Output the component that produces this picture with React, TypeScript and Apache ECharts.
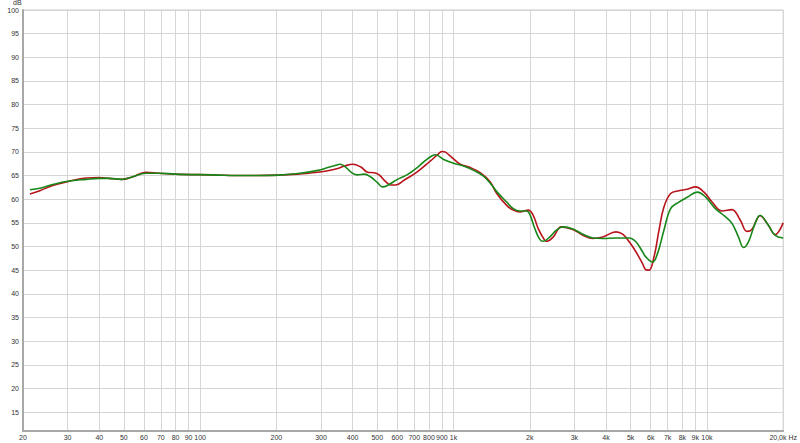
import React, { useEffect, useRef } from "react";
import * as echarts from "echarts";

// Frequency response, red curve
const redFreqs = [21.3, 23.3, 26.2, 30, 35.5, 40, 43.8, 49.2, 53.9, 61, 68.8, 79.9, 110.9, 150.4, 203.2, 243.3, 291.5, 319.1, 349.2, 371, 400, 431, 458, 486.5, 508.7, 540.3, 565.3, 591.4, 637.8, 719.2, 811.1, 861.5, 901, 929, 986.5, 1063, 1164, 1274, 1394, 1481, 1621, 1722, 1828, 1972, 2063, 2159, 2291, 2326, 2472, 2664, 2960, 3240, 3546, 3882, 4377, 4651, 4936, 5244, 5570, 5741, 5914, 6189, 6471, 6771, 7193, 7754, 8364, 9013, 9716, 10481, 11470, 12559, 13535, 14378, 15044, 16214, 17477, 18563, 20000];
const redDb = [61.1, 61.8, 62.9, 63.7, 64.5, 64.6, 64.4, 64.2, 64.7, 65.7, 65.5, 65.3, 65.15, 65.0, 65.1, 65.3, 65.7, 66.0, 66.5, 67.0, 67.4, 66.8, 65.7, 65.6, 65.15, 63.7, 63.0, 63.0, 64.0, 65.8, 68.1, 69.3, 70.1, 69.95, 68.8, 67.4, 66.7, 65.6, 63.7, 61.2, 58.7, 57.7, 57.3, 57.7, 56.6, 53.8, 51.3, 51.1, 52.0, 54.15, 53.6, 52.4, 51.7, 52.0, 53.1, 52.6, 51.0, 48.9, 46.4, 45.1, 45.0, 47.9, 53.45, 58.4, 61.2, 61.8, 62.1, 62.6, 61.55, 59.4, 57.5, 57.8, 55.6, 53.2, 53.6, 56.5, 54.5, 52.5, 55.0];

// Frequency response, green curve
const greenFreqs = [21.3, 23.3, 26.2, 30, 35.5, 40, 43.8, 49.2, 53.9, 61, 68.8, 79.9, 110.9, 150.4, 203.2, 243.3, 291.5, 319.1, 349.2, 356, 400, 418, 444.5, 471.7, 501, 524.3, 548.5, 600.6, 657.3, 719.2, 787, 823.5, 848, 915.3, 1002, 1096, 1200, 1313, 1416, 1481, 1621, 1722, 1828, 1942, 2001, 2093, 2190, 2258, 2397, 2546, 2705, 2960, 3240, 3546, 3882, 4377, 4936, 5244, 5570, 5741, 6100, 6381, 6771, 7193, 7754, 8364, 9153, 9865, 10799, 11816, 12559, 13328, 13944, 14588, 15498, 16214, 17477, 18563, 20000];
const greenDb = [62.0, 62.3, 63.1, 63.8, 64.2, 64.4, 64.4, 64.2, 64.7, 65.5, 65.5, 65.3, 65.15, 65.0, 65.1, 65.45, 66.1, 66.7, 67.3, 67.4, 65.45, 65.15, 65.3, 64.7, 63.5, 62.6, 62.9, 64.2, 65.2, 66.7, 68.5, 69.2, 69.4, 68.4, 67.6, 67.0, 66.1, 64.9, 63.0, 61.6, 59.4, 58.0, 57.5, 57.5, 56.8, 53.8, 51.5, 51.1, 52.0, 53.45, 54.15, 53.7, 52.6, 51.8, 51.7, 51.8, 51.8, 51.0, 48.9, 47.8, 46.7, 48.5, 53.5, 58.0, 59.4, 60.4, 61.5, 60.5, 58.0, 56.3, 54.9, 52.0, 49.8, 51.0, 54.9, 56.6, 54.5, 52.4, 51.8];

// Axis ticks
const xTickValues = [20, 30, 40, 50, 60, 70, 80, 90, 100, 200, 300, 400, 500, 600, 700, 800, 900, 1000, 2000, 3000, 4000, 5000, 6000, 7000, 8000, 9000, 10000, 20000];
const xTickLabels = ["20", "30", "40", "50", "60", "70", "80", "90", "100", "200", "300", "400", "500", "600", "700", "800", "900", "1k", "2k", "3k", "4k", "5k", "6k", "7k", "8k", "9k", "10k", "20,0k Hz"];
const yTickValues = [15, 20, 25, 30, 35, 40, 45, 50, 55, 60, 65, 70, 75, 80, 85, 90, 95, 100];

const FONT = "Liberation Sans, Arial, sans-serif";

export default function App() {
  const ref = useRef<HTMLDivElement>(null);
  useEffect(() => {
    if (!ref.current) return;
    const chart = echarts.init(ref.current, undefined, { renderer: "svg" });
    const pair = (fs: number[], ds: number[]) => fs.map((f, i) => [f, ds[i]]);
    chart.setOption({
      animation: false,
      backgroundColor: "#ffffff",
      grid: {
        left: 23,
        right: 12,
        top: 10,
        bottom: 12,
        show: true,
        borderColor: "#c8c8c8",
        borderWidth: 1,
        containLabel: false,
      },
      graphic: [
        {
          type: "text",
          left: 13,
          top: -1,
          style: { text: "dB", fontSize: 7, fill: "#333", fontFamily: FONT },
        },
      ],
      xAxis: {
        type: "log",
        logBase: 10,
        min: 20,
        max: 20000,
        axisLine: { show: true, lineStyle: { color: "#a8a8a8", width: 2 } },
        axisTick: { show: false, customValues: xTickValues },
        axisLabel: {
          customValues: xTickValues,
          fontSize: 7,
          color: "#333",
          fontFamily: FONT,
          margin: 3,
          formatter: (v: number) => {
            const idx = xTickValues.findIndex((t) => Math.abs(t - v) / t < 1e-6);
            return idx >= 0 ? xTickLabels[idx] : "";
          },
        },
        splitLine: { show: true, lineStyle: { color: "#d6d6d6", width: 1 } },
      },
      yAxis: {
        type: "value",
        min: 11,
        max: 100,
        axisLine: { show: true, lineStyle: { color: "#a8a8a8", width: 2 } },
        axisTick: { show: false, customValues: yTickValues },
        axisLabel: {
          customValues: yTickValues,
          fontSize: 7,
          color: "#333",
          fontFamily: FONT,
          margin: 4,
        },
        splitLine: { show: true, lineStyle: { color: "#d6d6d6", width: 1 } },
      },
      series: [
        {
          type: "line",
          data: pair(redFreqs, redDb),
          smooth: 0.4,
          showSymbol: false,
          lineStyle: { color: "#b8141c", width: 1.6 },
          z: 3,
        },
        {
          type: "line",
          data: pair(greenFreqs, greenDb),
          smooth: 0.4,
          showSymbol: false,
          lineStyle: { color: "#17871a", width: 1.6 },
          z: 4,
        },
      ],
    });
    return () => chart.dispose();
  }, []);
  return (
    <div
      ref={ref}
      style={{ position: "absolute", left: 0, top: 0, width: 800, height: 443 }}
    />
  );
}
